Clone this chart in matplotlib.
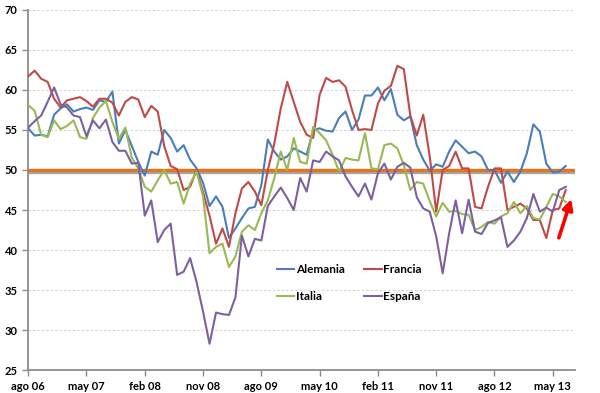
import matplotlib
matplotlib.use('Agg')
import matplotlib.pyplot as plt
import matplotlib.patheffects as pe
import numpy as np

# PMI manufacturero mensual, ago 06 - jul 13
alemania = [55.2, 54.3, 54.4, 54.2, 56.9, 57.7, 58.2, 57.3, 57.6, 57.8,
            57.5, 58.7, 58.5, 59.8, 53.3, 55.0, 53.0, 51.0, 49.3, 52.3,
            51.9, 55.0, 54.0, 52.3, 53.1, 51.3, 50.2, 48.4, 45.5, 46.7,
            45.4, 41.5, 42.7, 44.0, 45.2, 45.4, 48.1, 53.8, 52.3, 51.3,
            51.7, 52.7, 52.3, 51.9, 55.0, 55.2, 54.9, 54.8, 56.5, 57.3,
            55.0, 56.3, 59.3, 59.3, 60.3, 58.7, 60.1, 56.9, 56.2, 56.7,
            53.1, 51.3, 49.9, 50.7, 50.4, 52.3, 53.7, 52.9, 52.1, 52.3,
            51.7, 50.0, 50.0, 48.4, 49.8, 48.5, 49.8, 52.1, 55.7, 54.8,
            50.8, 49.7, 49.8, 50.5]
francia = [61.7, 62.4, 61.4, 61.0, 58.9, 57.8, 58.7, 58.9, 59.1, 58.6,
           57.9, 58.9, 58.9, 58.4, 56.8, 58.5, 59.1, 58.8, 56.6, 58.0,
           57.3, 53.0, 50.5, 50.1, 47.5, 47.9, 50.0, 47.2, 44.3, 40.8,
           42.7, 40.4, 44.6, 47.7, 48.5, 47.3, 45.6, 50.0, 53.3, 57.7,
           61.0, 58.5, 56.0, 54.4, 54.0, 59.4, 61.5, 61.0, 61.2, 60.4,
           57.5, 55.0, 55.1, 55.0, 58.3, 59.9, 60.5, 63.0, 62.6, 56.8,
           54.3, 56.9, 51.7, 44.8, 50.0, 50.5, 52.3, 50.2, 50.2, 45.4,
           45.2, 47.9, 50.2, 50.2, 45.0, 45.4, 45.8, 45.2, 43.75, 43.75,
           41.5, 45.0, 45.2, 47.5]
italia = [58.1, 57.4, 54.4, 54.1, 56.2, 55.1, 55.5, 56.2, 54.1, 53.9,
          56.5, 57.8, 58.6, 56.0, 53.9, 55.3, 51.5, 50.2, 47.9, 47.3,
          48.7, 50.0, 48.3, 48.5, 45.8, 48.3, 49.8, 46.7, 39.6, 40.4,
          40.8, 37.9, 39.2, 42.3, 43.1, 42.5, 44.6, 46.2, 49.0, 52.3,
          50.0, 54.0, 51.0, 50.8, 55.4, 54.6, 53.7, 51.9, 49.8, 51.5,
          51.3, 51.2, 54.6, 50.2, 50.1, 53.1, 53.3, 52.7, 50.6, 47.5,
          48.5, 48.3, 46.1, 44.2, 45.9, 44.8, 44.9, 44.5, 44.4, 42.5,
          42.9, 43.5, 43.3, 44.2, 44.6, 46.0, 44.6, 45.5, 44.0, 43.8,
          45.4, 47.0, 46.7, 46.0]
espana = [55.3, 56.1, 56.8, 58.5, 60.3, 58.2, 57.8, 56.8, 56.6, 54.2,
          56.2, 55.2, 56.3, 53.5, 52.4, 52.4, 50.8, 50.9, 44.3, 46.2,
          41.0, 42.5, 43.3, 36.9, 37.3, 39.0, 36.0, 32.3, 28.3, 32.2,
          32.0, 31.9, 34.1, 41.8, 39.2, 41.4, 41.2, 45.5, 46.7, 47.8,
          46.5, 45.0, 49.0, 47.3, 51.2, 51.0, 52.3, 51.7, 51.2, 49.2,
          47.9, 46.7, 48.3, 46.3, 49.6, 50.8, 48.8, 50.4, 50.9, 50.3,
          46.6, 45.2, 44.8, 41.7, 37.1, 42.1, 46.2, 42.1, 46.3, 42.3,
          42.0, 43.4, 43.7, 44.1, 40.4, 41.2, 42.3, 44.0, 47.0, 44.8,
          45.3, 44.8, 47.5, 47.9]

tick_labels = ['ago 06', 'may 07', 'feb 08', 'nov 08', 'ago 09',
               'may 10', 'feb 11', 'nov 11', 'ago 12', 'may 13']

plt.rcParams['font.family'] = ['Lato', 'DejaVu Sans']

months = np.arange(len(alemania))

fig = plt.figure(figsize=(6, 3.93), dpi=100)
ax = fig.add_axes([0.047, 0.058, 0.911, 0.917])

# grid
for yv in range(30, 75, 5):
    ax.axhline(yv, color='#D2D2DA', linewidth=0.8, linestyle=(0, (2, 2)), zorder=1)

# linea de 50
ax.axhline(50, color='#E8731A', linewidth=2.4, zorder=2,
           path_effects=[pe.SimpleLineShadow(offset=(0, -1.2), alpha=0.35), pe.Normal()])

l_al, = ax.plot(months, alemania, color='#4A7EBB', linewidth=1.5, label='Alemania', zorder=3)
l_fr, = ax.plot(months, francia, color='#BE4B48', linewidth=1.5, label='Francia', zorder=3)
l_it, = ax.plot(months, italia, color='#98B954', linewidth=1.5, label='Italia', zorder=3)
l_es, = ax.plot(months, espana, color='#7D60A0', linewidth=1.5, label='España', zorder=3)

# flecha roja
ax.annotate('', xy=(84.0, 46.7), xytext=(81.8, 41.2),
            arrowprops=dict(arrowstyle='-|>', color='red', lw=2.6, mutation_scale=15),
            zorder=4)

ax.set_xlim(0, 84.4)
ax.set_ylim(25, 70)
ax.set_yticks(range(25, 75, 5))
ax.set_xticks(np.arange(0, 82, 9))
ax.set_xticklabels(tick_labels)

for s in ['top', 'right']:
    ax.spines[s].set_visible(False)
for s in ['left', 'bottom']:
    ax.spines[s].set_color('#8C8C8C')
    ax.spines[s].set_linewidth(1.3)

ax.tick_params(axis='both', colors='#8C8C8C', length=4, width=1.0, labelsize=8,
               labelcolor='black')
for lab in ax.get_xticklabels() + ax.get_yticklabels():
    lab.set_fontweight('bold')

# legend: Alemania / Francia arriba, Italia / España abajo
leg = ax.legend(handles=[l_al, l_it, l_fr, l_es], ncol=2, loc='upper left',
                bbox_to_anchor=(0.435, 0.323), frameon=False,
                prop={'weight': 'bold', 'size': 8.5}, handlelength=1.5,
                handletextpad=0.15, columnspacing=1.6, labelspacing=1.3)

fig.savefig('out.png', dpi=100, facecolor='white')
